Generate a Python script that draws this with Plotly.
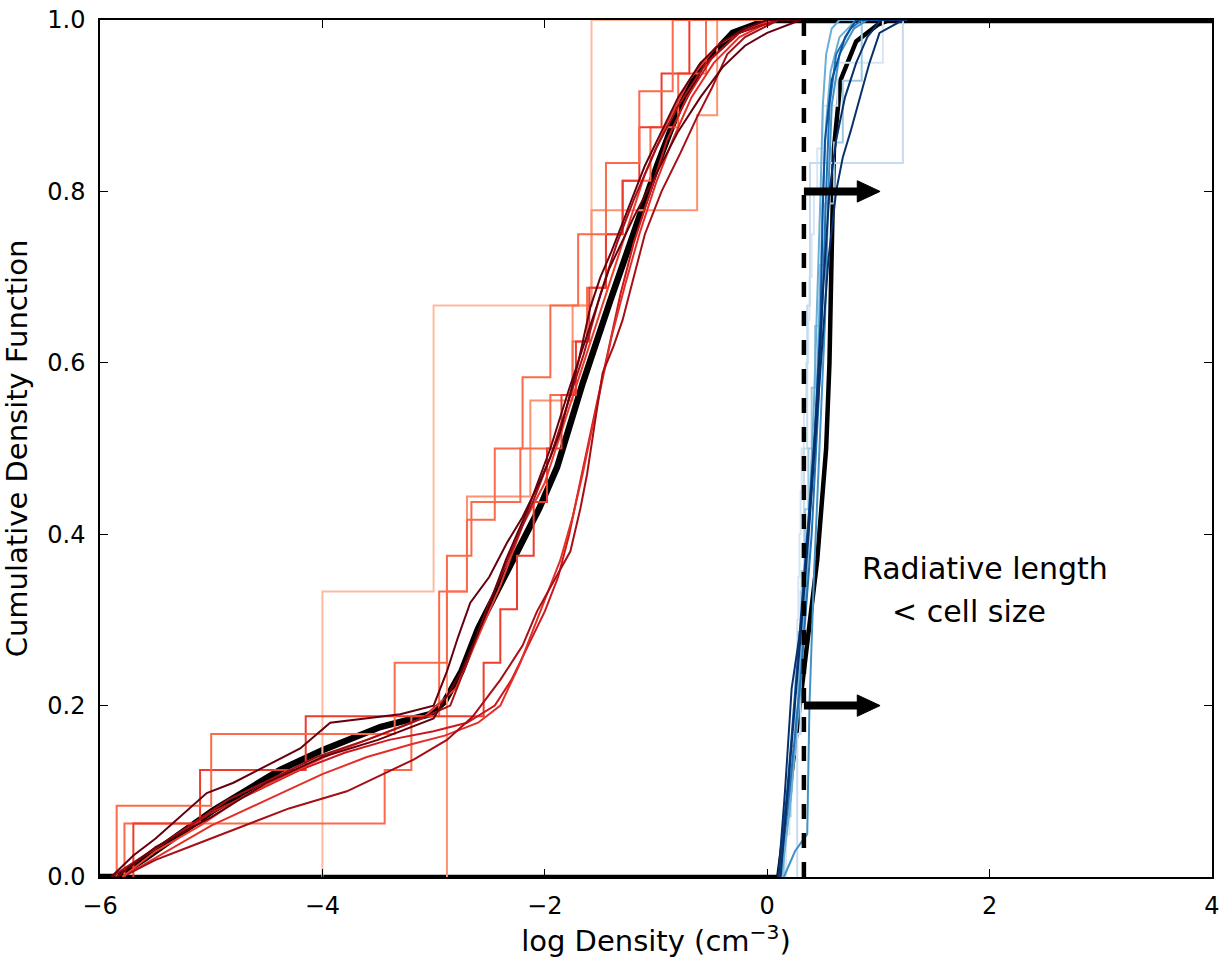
import plotly.graph_objects as go

# ---------------- data ----------------
# Mean CDFs (thick black)
red_mean_x = [-6.0, -5.85, -5.58, -4.98, -4.38, -4.0, -3.48, -3.03, -2.9, -2.75, -2.6, -2.4, -2.25,
              -2.05, -1.89, -1.66, -1.41, -1.26, -0.99, -0.80, -0.60, -0.31, 0.0, 4.0]
red_mean_y = [0.0, 0.0, 0.023, 0.078, 0.125, 0.148, 0.175, 0.19, 0.205, 0.24, 0.29, 0.34, 0.38,
              0.43, 0.478, 0.576, 0.673, 0.73, 0.83, 0.895, 0.945, 0.985, 1.0, 1.0]
blue_mean_x = [-6.0, 0.10, 0.2, 0.33, 0.45, 0.53, 0.56, 0.58, 0.6, 0.66, 0.8, 1.0, 1.1, 4.0]
blue_mean_y = [0.0, 0.0, 0.1, 0.24, 0.37, 0.5, 0.6, 0.73, 0.85, 0.93, 0.975, 0.995, 1.0, 1.0]

# Red step CDFs with few samples: jump positions and levels
red_steps = [
    ("#fcbba1", [-4.0, -3.0, -1.58], [0.333, 0.667, 1.0]),
    ("#fc9272", [-2.88, -2.88, -2.88, -2.70, -2.13, -1.75, -1.58, -0.63, -0.45],
     [0.111, 0.222, 0.333, 0.444, 0.556, 0.667, 0.778, 0.889, 1.0]),
    ("#fb6a4a", [-5.78, -3.44, -3.2, -2.95, -2.88, -2.88, -2.66, -2.22, -1.95, -1.75, -1.62, -1.45,
                 -1.3, -1.05, -0.80, -0.55],
     [0.0625, 0.125, 0.1875, 0.25, 0.3125, 0.375, 0.4375, 0.5, 0.5625, 0.625, 0.6875, 0.75,
      0.8125, 0.875, 0.9375, 1.0]),
    ("#ef3b2c", [-5.7, -5.1, -4.15, -2.55, -2.4, -2.25, -2.1, -1.98, -1.85, -1.72, -1.6, -1.45,
                 -1.3, -1.15, -0.95, -0.7],
     [0.0625, 0.125, 0.1875, 0.25, 0.3125, 0.375, 0.4375, 0.5, 0.5625, 0.625, 0.6875, 0.75,
      0.8125, 0.875, 0.9375, 1.0]),
    ("#fb6a4a", [-5.85, -5.0, -3.35, -2.95, -2.7, -2.45, -2.2, -1.95, -1.7, -1.45, -1.15, -0.85],
     [0.083, 0.167, 0.25, 0.333, 0.417, 0.5, 0.583, 0.667, 0.75, 0.833, 0.917, 1.0]),
]
red_step_end_x = 0.3

# Red CDFs with many samples: traced points
red_dense = [
    ("#cb181d",
     [-5.85, -5.6, -5.3, -5.0, -4.6, -4.2, -3.8, -3.4, -3.0, -2.7, -2.45, -2.3, -2.15, -2.0, -1.88,
      -1.78, -1.7, -1.62, -1.52, -1.42, -1.32, -1.2, -1.05, -0.9, -0.72, -0.5, -0.25, 0.0],
     [0.0, 0.025, 0.05, 0.075, 0.1, 0.125, 0.145, 0.16, 0.17, 0.18, 0.2, 0.23, 0.27, 0.31, 0.35,
      0.4, 0.45, 0.5, 0.56, 0.62, 0.68, 0.74, 0.8, 0.86, 0.91, 0.955, 0.985, 1.0]),
    ("#e32f27",
     [-5.8, -5.4, -5.0, -4.5, -4.0, -3.6, -3.2, -2.9, -2.6, -2.4, -2.22, -2.1, -1.98, -1.86, -1.75,
      -1.66, -1.58, -1.5, -1.4, -1.28, -1.15, -1.0, -0.85, -0.68, -0.48, -0.25, 0.05],
     [0.0, 0.03, 0.06, 0.09, 0.12, 0.14, 0.155, 0.165, 0.18, 0.2, 0.25, 0.29, 0.33, 0.37, 0.42,
      0.47, 0.52, 0.57, 0.63, 0.69, 0.75, 0.81, 0.86, 0.91, 0.95, 0.98, 1.0]),
    ("#a50f15",
     [-5.8, -5.5, -5.2, -4.8, -4.3, -3.78, -3.45, -3.18, -2.88, -2.65, -2.4, -2.2, -2.07, -1.93,
      -1.77, -1.68, -1.62, -1.55, -1.48, -1.38, -1.30, -1.2, -1.1, -0.95, -0.78, -0.63, -0.5,
      -0.36, -0.2, 0.1],
     [0.0, 0.02, 0.035, 0.055, 0.08, 0.10, 0.12, 0.137, 0.16, 0.187, 0.23, 0.27, 0.31, 0.343,
      0.38, 0.43, 0.47, 0.53, 0.588, 0.62, 0.65, 0.7, 0.75, 0.8, 0.845, 0.887, 0.92, 0.96, 0.98,
      1.0]),
    ("#ef3b2c",
     [-5.8, -5.5, -5.1, -4.7, -4.3, -3.9, -3.5, -3.1, -2.8, -2.6, -2.4, -2.2, -2.0, -1.85, -1.7,
      -1.55, -1.4, -1.25, -1.1, -0.9, -0.7, -0.45, -0.2, 0.05],
     [0.0, 0.03, 0.06, 0.095, 0.12, 0.145, 0.165, 0.185, 0.22, 0.28, 0.34, 0.41, 0.46, 0.52, 0.58,
      0.64, 0.7, 0.76, 0.82, 0.88, 0.93, 0.97, 0.99, 1.0]),
    ("#a50f15",
     [-5.9, -5.6, -5.25, -4.85, -4.45, -4.05, -3.6, -3.2, -2.85, -2.7, -2.5, -2.3, -2.1, -1.95,
      -1.8, -1.65, -1.5, -1.35, -1.2, -1.0, -0.8, -0.55, -0.25, 0.1],
     [0.0, 0.025, 0.055, 0.09, 0.115, 0.14, 0.16, 0.18, 0.2, 0.25, 0.32, 0.38, 0.44, 0.49, 0.55,
      0.61, 0.68, 0.74, 0.79, 0.85, 0.9, 0.95, 0.985, 1.0]),
    ("#67000d",
     [-5.85, -5.5, -5.0, -4.5, -4.0, -3.5, -3.0, -2.75, -2.55, -2.35, -2.15, -1.95, -1.78, -1.6,
      -1.42, -1.2, -1.0, -0.8, -0.6, -0.4, -0.2, 0.0, 0.3],
     [0.0, 0.035, 0.07, 0.11, 0.14, 0.16, 0.185, 0.24, 0.3, 0.37, 0.43, 0.5, 0.57, 0.64, 0.71,
      0.77, 0.82, 0.87, 0.91, 0.945, 0.97, 0.985, 1.0]),
    ("#67000d",
     [-5.9, -5.7, -5.5, -5.28, -5.04, -4.8, -4.5, -4.2, -3.93, -3.6, -3.3, -3.0, -2.88, -2.78,
      -2.67, -2.5, -2.34, -2.2, -2.05, -1.95, -1.86, -1.78, -1.7, -1.59, -1.5, -1.4, -1.25, -1.1,
      -0.95, -0.8, -0.6, -0.4, -0.2, 0.0],
     [0.0, 0.025, 0.045, 0.07, 0.098, 0.11, 0.13, 0.15, 0.18, 0.185, 0.19, 0.2, 0.24, 0.28, 0.32,
      0.35, 0.39, 0.42, 0.46, 0.49, 0.52, 0.56, 0.6, 0.665, 0.7, 0.73, 0.78, 0.83, 0.87, 0.91,
      0.95, 0.975, 0.99, 1.0]),
]

# Blue step CDFs with few samples
blue_steps = [
    ("#d6e6f4", [0.17, 0.2, 0.22, 0.24, 0.25, 0.27, 0.28, 0.29, 0.30, 0.31, 0.33, 0.35, 0.37, 0.38,
                 0.40, 0.42, 0.45, 0.50, 0.63, 1.04],
     [0.05, 0.1, 0.15, 0.2, 0.25, 0.3, 0.35, 0.4, 0.45, 0.5, 0.55, 0.6, 0.65, 0.7, 0.75, 0.8,
      0.85, 0.9, 0.95, 1.0]),
    ("#c6dbef", [0.27, 0.30, 0.33, 0.36, 0.385, 1.22], [0.167, 0.333, 0.5, 0.667, 0.833, 1.0]),
    ("#9ecae1", [0.15, 0.21, 0.25, 0.28, 0.31, 0.34, 0.37, 0.40, 0.43, 0.47, 0.52, 0.60, 0.68, 0.85],
     [0.071, 0.143, 0.214, 0.286, 0.357, 0.429, 0.5, 0.571, 0.643, 0.714, 0.786, 0.857, 0.929, 1.0]),
]
blue_step_end_x = 1.25

# Blue CDFs with many samples
blue_dense = [
    ("#6baed6", [0.13, 0.22, 0.3, 0.37, 0.42, 0.46, 0.48, 0.5, 0.53, 0.58, 0.65],
     [0.0, 0.1, 0.25, 0.4, 0.55, 0.7, 0.8, 0.9, 0.96, 0.99, 1.0]),
    ("#6baed6", [0.12, 0.2, 0.3, 0.38, 0.44, 0.48, 0.5, 0.53, 0.57, 0.65, 0.8],
     [0.0, 0.08, 0.22, 0.4, 0.55, 0.7, 0.8, 0.88, 0.94, 0.98, 1.0]),
    ("#4292c6", [0.15, 0.25, 0.36, 0.38, 0.42, 0.47, 0.52, 0.55, 0.58, 0.65, 0.78, 0.9],
     [0.0, 0.03, 0.05, 0.2, 0.35, 0.5, 0.65, 0.8, 0.9, 0.96, 0.99, 1.0]),
    ("#2171b5", [0.11, 0.2, 0.3, 0.4, 0.46, 0.5, 0.53, 0.56, 0.62, 0.75, 0.85],
     [0.0, 0.1, 0.23, 0.4, 0.55, 0.68, 0.8, 0.9, 0.96, 0.99, 1.0]),
    ("#08519c", [0.10, 0.18, 0.26, 0.35, 0.43, 0.48, 0.5, 0.52, 0.58, 0.7, 0.8],
     [0.0, 0.1, 0.23, 0.38, 0.52, 0.65, 0.78, 0.86, 0.93, 0.98, 1.0]),
    ("#08306b", [0.10, 0.16, 0.22, 0.3, 0.38, 0.45, 0.5, 0.56, 0.62, 0.7, 0.8, 0.9, 1.02],
     [0.0, 0.1, 0.22, 0.29, 0.42, 0.56, 0.68, 0.8, 0.86, 0.91, 0.95, 0.98, 1.0]),
    ("#08306b", [0.12, 0.2, 0.3, 0.4, 0.48, 0.55, 0.62, 0.68, 0.75, 0.83, 0.92, 1.01, 1.22],
     [0.0, 0.12, 0.28, 0.45, 0.6, 0.72, 0.8, 0.84, 0.87, 0.907, 0.95, 0.985, 1.0]),
]

x_range = [-6, 4]
y_range = [0, 1]
x_ticks = [-6, -4, -2, 0, 2, 4]
x_tick_text = ["\u22126", "\u22124", "\u22122", "0", "2", "4"]
y_ticks = [0.0, 0.2, 0.4, 0.6, 0.8, 1.0]
threshold_x = 0.33
arrow_levels = [0.8, 0.2]
arrow_shaft_end_x = 0.81
arrow_tip_x = 1.015
arrow_half_height = 0.0125

FONT = "DejaVu Sans"

fig = go.Figure()

# thick black mean curves
fig.add_trace(go.Scatter(x=red_mean_x, y=red_mean_y, mode="lines",
                         line=dict(color="black", width=6.5), showlegend=False))
fig.add_trace(go.Scatter(x=blue_mean_x, y=blue_mean_y, mode="lines",
                         line=dict(color="black", width=4.5), showlegend=False))


def step_arrays(jumps, levels, end_x):
    xs = [jumps[0]] + list(jumps) + [end_x]
    ys = [0.0] + list(levels) + [levels[-1]]
    return xs, ys


for color, jumps, levels in red_steps:
    xs, ys = step_arrays(jumps, levels, red_step_end_x)
    fig.add_trace(go.Scatter(x=xs, y=ys, mode="lines", line=dict(color=color, width=2, shape="hv"),
                             showlegend=False))

for color, xs, ys in red_dense:
    fig.add_trace(go.Scatter(x=xs + [red_step_end_x], y=ys + [1.0], mode="lines",
                             line=dict(color=color, width=2), showlegend=False))

for color, jumps, levels in blue_steps:
    xs, ys = step_arrays(jumps, levels, blue_step_end_x)
    fig.add_trace(go.Scatter(x=xs, y=ys, mode="lines", line=dict(color=color, width=2, shape="hv"),
                             showlegend=False))

for color, xs, ys in blue_dense:
    fig.add_trace(go.Scatter(x=xs + [blue_step_end_x], y=ys + [1.0], mode="lines",
                             line=dict(color=color, width=2), showlegend=False))

# dashed threshold line
fig.add_shape(type="line", x0=threshold_x, x1=threshold_x, y0=0, y1=1, xref="x", yref="y",
              line=dict(color="black", width=4.5, dash="15px,14px"))

# arrows (shaft + head)
for yl in arrow_levels:
    fig.add_shape(type="line", x0=threshold_x, x1=arrow_shaft_end_x + 0.01, y0=yl, y1=yl,
                  xref="x", yref="y", line=dict(color="black", width=8))
    fig.add_shape(type="path", xref="x", yref="y",
                  path=f"M {arrow_shaft_end_x},{yl - arrow_half_height} L {arrow_tip_x},{yl} "
                       f"L {arrow_shaft_end_x},{yl + arrow_half_height} Z",
                  fillcolor="black", line=dict(color="black", width=1))

fig.add_annotation(x=0.83, y=0.36, xref="x", yref="y", text="Radiative length", showarrow=False,
                   xanchor="left", yanchor="middle", font=dict(family=FONT, size=30, color="black"))
fig.add_annotation(x=1.10, y=0.31, xref="x", yref="y", text="&lt; cell size", showarrow=False,
                   xanchor="left", yanchor="middle", font=dict(family=FONT, size=30, color="black"))

axis_common = dict(showgrid=False, zeroline=False, showline=True, linecolor="black", linewidth=1.5,
                   mirror="ticks", ticks="inside", ticklen=8, tickwidth=1, tickcolor="black",
                   automargin=False, tickfont=dict(family=FONT, size=24, color="black"))

fig.update_xaxes(range=x_range, tickvals=x_ticks, ticktext=x_tick_text,
                 title=dict(text="log Density (cm<sup>\u22123</sup>)", font=dict(family=FONT, size=29),
                            standoff=8),
                 ticklabelstandoff=6, **axis_common)
fig.update_yaxes(range=y_range, tickvals=y_ticks, tickformat=".1f",
                 title=dict(text="Cumulative Density Function", font=dict(family=FONT, size=29),
                            standoff=12),
                 ticklabelstandoff=8, **axis_common)

fig.update_layout(width=1229, height=966, margin=dict(l=100, r=17, t=20, b=89),
                  plot_bgcolor="white", paper_bgcolor="white",
                  font=dict(family=FONT, color="black"), showlegend=False)

fig.write_html("out.html")
